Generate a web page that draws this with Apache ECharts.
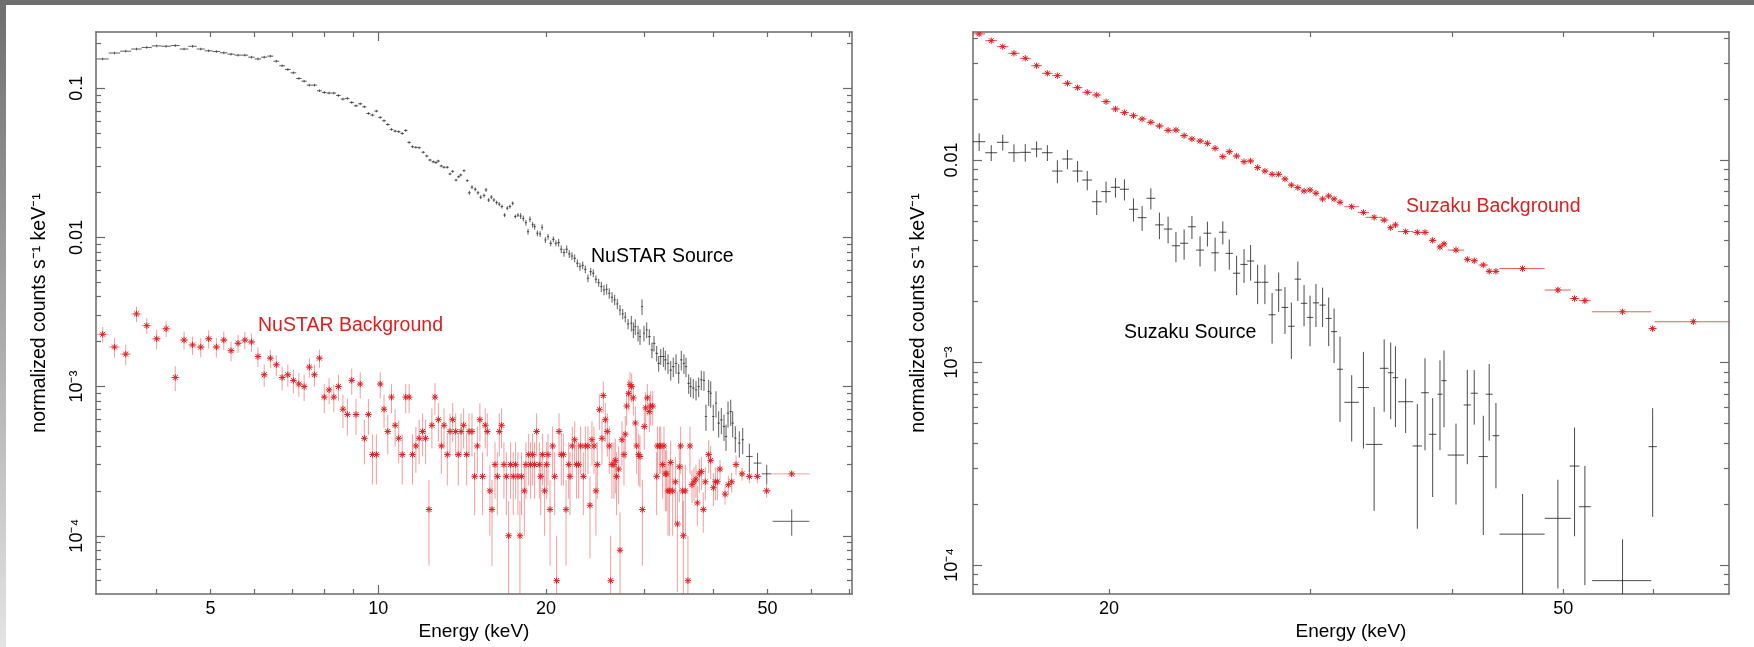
<!DOCTYPE html>
<html>
<head>
<meta charset="utf-8">
<script src="https://cdn.jsdelivr.net/npm/echarts@6/dist/echarts.min.js"></script>
<style>
html,body{margin:0;padding:0;background:#ffffff;}
#c{width:1754px;height:647px;}
</style>
</head>
<body>
<div id="c"></div>
<script>
// ---------------- axis ranges & ticks ----------------
const leftXRange = [3.113, 70.87];
const leftYRange = [4.07e-5, 0.238];
const rightXRange = [15.2, 69.85];
const rightYRange = [7.19e-5, 0.04286];

const leftXLabelValues = [5, 10, 20, 50];
const leftXLabelTexts = ['5', '10', '20', '50'];
const leftXMajorTicks = [10];
const leftXMinorTicks = [4, 5, 6, 7, 8, 9, 20, 30, 40, 50, 60, 70];

const leftYLabelValues = [0.1, 0.01, 0.001, 0.0001];
const leftYLabelTexts = ['0.1', '0.01', '10⁻³', '10⁻⁴'];
const leftYMajorTicks = [0.1, 0.01, 0.001, 0.0001];
const leftYMinorTicks = [5e-5, 6e-5, 7e-5, 8e-5, 9e-5, 2e-4, 3e-4, 4e-4, 5e-4, 6e-4, 7e-4, 8e-4, 9e-4,
  2e-3, 3e-3, 4e-3, 5e-3, 6e-3, 7e-3, 8e-3, 9e-3, 0.02, 0.03, 0.04, 0.05, 0.06, 0.07, 0.08, 0.09, 0.2];

const rightXLabelValues = [20, 50];
const rightXLabelTexts = ['20', '50'];
const rightXMajorTicks = [];
const rightXMinorTicks = [20, 30, 40, 50, 60];

const rightYLabelValues = [0.01, 0.001, 0.0001];
const rightYLabelTexts = ['0.01', '10⁻³', '10⁻⁴'];
const rightYMajorTicks = [0.01, 0.001, 0.0001];
const rightYMinorTicks = [8e-5, 9e-5, 2e-4, 3e-4, 4e-4, 5e-4, 6e-4, 7e-4, 8e-4, 9e-4,
  2e-3, 3e-3, 4e-3, 5e-3, 6e-3, 7e-3, 8e-3, 9e-3, 0.02, 0.03, 0.04];

const xAxisTitle = 'Energy (keV)';
const yAxisTitle = 'normalized counts s⁻¹ keV⁻¹';

// ---------------- data: [energy keV, half bin width keV, rate, relative error] ----------------
const nustarSource = [
[3.20,0.08,0.157,0.02],[3.36,0.08,0.172,0.02],[3.52,0.08,0.177,0.02],[3.68,0.08,0.183,0.02],[3.84,0.08,0.1875,0.02],
[4.00,0.08,0.192,0.02],[4.16,0.08,0.191,0.02],[4.32,0.08,0.193,0.02],[4.48,0.08,0.183,0.02],[4.64,0.08,0.191,0.02],
[4.80,0.08,0.183,0.02],[4.96,0.08,0.178,0.02],[5.12,0.08,0.176,0.02],[5.28,0.08,0.1726,0.02],[5.44,0.08,0.169,0.02],
[5.60,0.08,0.1665,0.02],[5.76,0.08,0.1665,0.02],[5.92,0.08,0.1614,0.02],[6.08,0.08,0.157,0.02],[6.24,0.08,0.1614,0.02],
[6.40,0.08,0.164,0.02],[6.56,0.08,0.1517,0.02],[6.72,0.08,0.1413,0.02],[6.88,0.08,0.1335,0.02],[7.04,0.08,0.1268,0.02],
[7.20,0.08,0.1161,0.02],[7.36,0.08,0.1114,0.02],[7.52,0.08,0.1048,0.02],[7.68,0.08,0.1048,0.02],[7.84,0.08,0.0961,0.02],
[8.00,0.08,0.0936,0.02],[8.16,0.08,0.0927,0.02],[8.32,0.08,0.0927,0.02],[8.48,0.08,0.0894,0.02],[8.64,0.08,0.0845,0.02],
[8.80,0.08,0.0854,0.02],[8.96,0.08,0.0802,0.02],[9.12,0.08,0.0762,0.02],[9.28,0.08,0.0786,0.02],[9.44,0.08,0.0750,0.02],
[9.60,0.08,0.0677,0.02],[9.76,0.08,0.0660,0.02],[9.92,0.08,0.0702,0.02],[10.08,0.08,0.0637,0.02],[10.24,0.08,0.0605,0.02],
[10.40,0.08,0.0571,0.02],[10.56,0.08,0.0529,0.02],[10.72,0.08,0.0516,0.02],[10.88,0.08,0.0511,0.02],[11.04,0.08,0.0497,0.02],
[11.20,0.08,0.0521,0.02],[11.36,0.08,0.0433,0.02],[11.52,0.08,0.0405,0.02],[11.68,0.08,0.0401,0.02],[11.84,0.08,0.0399,0.02],
[12.04,0.085,0.0372,0.02],[12.22,0.085,0.0351,0.02],[12.38,0.085,0.0330,0.02],[12.55,0.085,0.0321,0.02],[12.69,0.085,0.0317,0.02],
[12.81,0.085,0.0325,0.02],[12.97,0.085,0.0301,0.02],[13.12,0.085,0.0295,0.02],[13.30,0.085,0.0295,0.02],[13.45,0.085,0.0266,0.02],
[13.60,0.085,0.0277,0.02],[13.79,0.085,0.0242,0.02],[13.94,0.085,0.0255,0.02],[14.06,0.085,0.0262,0.02],[14.25,0.085,0.0280,0.02],
[14.45,0.085,0.0240,0.02],[14.57,0.085,0.0199,0.03],[14.73,0.085,0.0217,0.03],[14.93,0.085,0.0210,0.03],[15.10,0.085,0.0199,0.03],
[15.27,0.085,0.0186,0.03],[15.48,0.085,0.0191,0.03],[15.61,0.085,0.0208,0.03],[15.78,0.085,0.0178,0.03],[15.96,0.085,0.0186,0.03],
[16.13,0.085,0.0178,0.03],[16.31,0.085,0.0171,0.03],[16.49,0.085,0.0167,0.03],[16.67,0.085,0.0161,0.03],[16.86,0.085,0.0141,0.03],
[17.04,0.085,0.0157,0.03],[17.23,0.085,0.0161,0.03],[17.43,0.085,0.0169,0.03],[17.62,0.085,0.0138,0.03],[17.81,0.085,0.0141,0.03],
[18.01,0.085,0.0139,0.045],[18.21,0.085,0.0134,0.045],[18.41,0.085,0.01255,0.045],[18.57,0.085,0.01092,0.045],[18.72,0.085,0.01322,0.045],
[18.93,0.085,0.01216,0.045],[19.09,0.085,0.01180,0.045],[19.30,0.085,0.01065,0.045],[19.52,0.085,0.01054,0.045],[19.68,0.085,0.01168,0.045],
[19.95,0.085,0.00961,0.045],[20.17,0.085,0.01011,0.045],[20.40,0.12,0.00913,0.045],[20.62,0.12,0.00971,0.045],[20.84,0.12,0.00913,0.045],
[21.08,0.12,0.00922,0.06],[21.30,0.12,0.00833,0.06],[21.55,0.12,0.00790,0.06],[21.79,0.12,0.00833,0.06],[22.02,0.12,0.00774,0.06],
[22.27,0.12,0.00750,0.06],[22.52,0.12,0.00724,0.06],[22.77,0.12,0.00671,0.06],[23.02,0.12,0.00636,0.06],[23.28,0.12,0.00650,0.06],
[23.53,0.12,0.00611,0.06],[23.79,0.12,0.00532,0.06],[24.06,0.12,0.00589,0.06],[24.32,0.12,0.00575,0.06],[24.59,0.12,0.00524,0.06],
[24.87,0.12,0.00497,0.06],[25.14,0.12,0.00467,0.08],[25.42,0.12,0.00444,0.08],[25.70,0.12,0.00449,0.08],[25.98,0.12,0.00422,0.08],
[26.28,0.12,0.00397,0.08],[26.57,0.12,0.00381,0.08],[26.86,0.12,0.00358,0.08],[27.16,0.12,0.00326,0.08],[27.47,0.12,0.00307,0.08],
[27.76,0.12,0.00292,0.08],[28.08,0.12,0.00263,0.08],[28.46,0.12,0.00266,0.12],[28.70,0.12,0.00240,0.12],[28.93,0.12,0.00252,0.12],
[29.26,0.12,0.00228,0.12],[29.50,0.12,0.00216,0.12],[29.75,0.12,0.00343,0.12],[29.99,0.12,0.00228,0.12],[30.33,0.12,0.00240,0.12],
[30.66,0.18,0.00216,0.12],[31.00,0.18,0.00176,0.12],[31.26,0.18,0.00195,0.12],[31.61,0.18,0.00167,0.12],[31.87,0.18,0.00143,0.12],
[32.14,0.18,0.00159,0.12],[32.49,0.18,0.00159,0.15],[32.76,0.18,0.00151,0.15],[33.12,0.18,0.00143,0.15],[33.50,0.18,0.00129,0.15],
[33.85,0.18,0.00136,0.15],[34.24,0.18,0.00143,0.15],[34.62,0.18,0.00123,0.15],[34.99,0.18,0.00151,0.15],[35.38,0.18,0.00143,0.15],
[35.68,0.18,0.00136,0.15],[36.08,0.18,0.00105,0.15],[36.38,0.18,0.00100,0.15],[36.77,0.18,0.000976,0.15],[37.19,0.18,0.000950,0.15],
[37.60,0.18,0.00100,0.15],[38.01,0.18,0.00111,0.15],[38.43,0.18,0.00110,0.15],[38.75,0.18,0.000630,0.2],[39.19,0.18,0.000926,0.2],
[39.52,0.18,0.000903,0.2],[39.94,0.18,0.000630,0.2],[40.39,0.18,0.000774,0.2],[40.84,0.22,0.000569,0.2],[41.29,0.22,0.000598,0.2],
[41.75,0.22,0.000540,0.2],[42.10,0.22,0.000463,0.2],[42.45,0.22,0.000663,0.2],[42.93,0.22,0.000680,0.2],[43.28,0.22,0.000569,0.2],
[43.75,0.22,0.000451,0.2],[44.48,0.22,0.000418,0.2],[45.11,0.22,0.000440,0.2],[46.36,0.63,0.000340,0.22],[47.96,0.79,0.000307,0.17],
[49.82,1.03,0.000260,0.15],[55.24,4.2,0.000125,0.2]
];

const nustarBackground = [
[3.20,0.08,0.00224,0.12],[3.36,0.08,0.00184,0.15],[3.52,0.08,0.00165,0.16],[3.68,0.08,0.00307,0.12],[3.84,0.08,0.00256,0.12],
[4.00,0.08,0.00209,0.15],[4.16,0.08,0.00244,0.12],[4.32,0.08,0.00115,0.19],[4.48,0.08,0.00205,0.14],[4.64,0.08,0.00190,0.14],
[4.80,0.08,0.00184,0.15],[4.96,0.08,0.00209,0.14],[5.12,0.08,0.00184,0.15],[5.28,0.08,0.00205,0.14],[5.44,0.08,0.00174,0.15],
[5.60,0.08,0.00195,0.14],[5.76,0.08,0.00205,0.13],[5.92,0.08,0.00199,0.14],[6.08,0.08,0.00159,0.15],[6.24,0.08,0.00120,0.17],
[6.40,0.08,0.00155,0.14],[6.56,0.08,0.00140,0.16],[6.72,0.08,0.00115,0.18],[6.88,0.08,0.00120,0.17],[7.04,0.08,0.00110,0.18],
[7.20,0.08,0.00104,0.18],[7.36,0.08,0.00100,0.2],[7.52,0.08,0.00135,0.15],[7.68,0.08,0.00120,0.17],[7.84,0.08,0.00155,0.14],
[8.00,0.08,0.00085,0.22],[8.16,0.08,0.00095,0.2],[8.32,0.08,0.00085,0.21],[8.48,0.08,0.00100,0.2],[8.64,0.08,0.000705,0.25],
[8.80,0.08,0.00065,0.28],[8.96,0.08,0.00110,0.2],[9.12,0.08,0.00065,0.27],[9.28,0.08,0.00104,0.2],[9.44,0.08,0.00045,0.33],
[9.60,0.08,0.00065,0.27],[9.76,0.08,0.00035,0.37],[9.92,0.08,0.00035,0.37],[10.08,0.08,0.00104,0.2],[10.24,0.08,0.000705,0.25],
[10.40,0.08,0.0005,0.3],[10.56,0.08,0.00085,0.22],[10.72,0.08,0.00055,0.28],[10.88,0.08,0.00045,0.32],[11.04,0.08,0.00035,0.37],
[11.20,0.08,0.00085,0.22],[11.36,0.08,0.00085,0.22],[11.52,0.08,0.00035,0.37],[11.68,0.08,0.0004,0.34],[11.84,0.08,0.00045,0.33],
[12.01,0.08,0.0005,0.32],[12.16,0.08,0.00045,0.33],[12.33,0.08,0.00015,0.58],[12.48,0.08,0.00055,0.3],[12.64,0.08,0.00085,0.24],
[12.82,0.08,0.0006,0.29],[12.98,0.08,0.0004,0.35],[13.12,0.08,0.00055,0.3],[13.30,0.08,0.00035,0.38],[13.45,0.08,0.0005,0.32],
[13.60,0.08,0.0006,0.29],[13.77,0.08,0.0005,0.32],[13.92,0.08,0.00035,0.38],[14.08,0.08,0.0005,0.32],[14.23,0.08,0.00055,0.3],
[14.41,0.08,0.00035,0.38],[14.55,0.08,0.0005,0.32],[14.73,0.08,0.0005,0.32],[14.89,0.08,0.00025,0.45],[15.06,0.08,0.0004,0.35],
[15.22,0.08,0.0006,0.29],[15.39,0.08,0.00025,0.45],[15.56,0.08,0.00055,0.3],[15.69,0.08,0.0005,0.32],[15.86,0.08,0.0002,0.5],
[16.00,0.08,0.00015,0.58],[16.20,0.08,0.0003,0.41],[16.36,0.08,0.00025,0.45],[16.49,0.08,0.0005,0.32],[16.65,0.08,0.00055,0.3],
[16.81,0.08,0.0003,0.41],[16.98,0.08,0.00025,0.45],[17.14,0.08,0.0001,0.71],[17.28,0.08,0.0003,0.41],[17.47,0.08,0.00025,0.45],
[17.64,0.08,0.0003,0.41],[17.81,0.08,0.00025,0.45],[17.96,0.08,0.0001,0.71],[18.08,0.08,0.00025,0.45],[18.29,0.08,0.0002,0.5],
[18.41,0.08,0.0003,0.41],[18.62,0.08,0.00035,0.38],[18.77,0.08,0.0003,0.41],[18.93,0.08,0.00035,0.38],[19.08,0.08,0.0003,0.41],
[19.24,0.08,0.0005,0.32],[19.46,0.08,0.0003,0.41],[19.57,0.08,0.00025,0.45],[19.73,0.08,0.00035,0.38],[19.89,0.08,0.0002,0.5],
[20.06,0.1,0.0003,0.41],[20.17,0.1,0.00035,0.38],[20.34,0.1,0.00015,0.58],[20.56,0.1,0.0004,0.35],[20.73,0.1,0.00025,0.45],
[20.90,0.1,0.00005,1],[21.11,0.1,0.0005,0.32],[21.31,0.1,0.00035,0.38],[21.49,0.1,0.00035,0.38],[21.73,0.1,0.00015,0.58],
[21.97,0.1,0.0003,0.41],[22.09,0.1,0.00025,0.45],[22.30,0.1,0.0004,0.35],[22.52,0.1,0.00044,0.33],[22.70,0.1,0.0003,0.41],
[22.89,0.1,0.0003,0.41],[23.08,0.1,0.0004,0.35],[23.34,0.1,0.00025,0.45],[23.53,0.1,0.0004,0.35],[23.79,0.1,0.0004,0.35],
[23.99,0.1,0.00016,0.56],[24.19,0.1,0.00044,0.33],[24.39,0.1,0.0004,0.35],[24.59,0.1,0.0002,0.5],[24.73,0.1,0.0003,0.41],
[24.94,0.1,0.0007,0.27],[25.21,0.1,0.00045,0.33],[25.35,0.1,0.00087,0.24],[25.56,0.1,0.0006,0.29],[25.77,0.1,0.0005,0.32],
[25.98,0.1,0.0004,0.35],[26.13,0.1,0.00005,1],[26.27,0.1,0.0003,0.41],[26.49,0.1,0.0003,0.41],[26.64,0.1,0.00032,0.4],
[26.78,0.1,0.00025,0.45],[27.01,0.1,0.00028,0.42],[27.16,0.1,0.00008,0.8],[27.38,0.1,0.00044,0.33],[27.61,0.1,0.00035,0.38],
[27.76,0.1,0.00048,0.32],[27.92,0.1,0.00074,0.26],[28.15,0.1,0.0009,0.23],[28.31,0.1,0.00103,0.22],[28.50,0.1,0.001,0.22],
[28.70,0.1,0.00084,0.24],[28.94,0.1,0.00057,0.29],[29.10,0.1,0.0004,0.35],[29.34,0.1,0.00035,0.38],[29.50,0.1,0.00034,0.38],
[29.79,0.1,0.00015,0.58],[30.03,0.14,0.00054,0.3],[30.20,0.14,0.00072,0.27],[30.41,0.14,0.00084,0.24],[30.66,0.14,0.00068,0.27],
[30.83,0.14,0.00074,0.26],[31.09,0.14,0.00074,0.26],[31.61,0.14,0.00025,0.45],[31.70,0.14,0.0004,0.35],[31.96,0.14,0.0004,0.35],
[32.14,0.14,0.0004,0.35],[32.40,0.14,0.0003,0.41],[32.58,0.14,0.0004,0.35],[32.76,0.14,0.00026,0.44],[32.94,0.14,0.00026,0.44],
[33.12,0.14,0.0002,0.5],[33.31,0.14,0.0002,0.5],[33.49,0.14,0.00031,0.4],[33.77,0.14,0.0002,0.5],[34.15,0.14,0.00023,0.47],
[34.43,0.14,0.00012,0.65],[34.71,0.14,0.00029,0.42],[34.90,0.14,0.0004,0.35],[35.19,0.14,0.0002,0.5],[35.29,0.14,0.0001,0.71],
[35.58,0.14,0.0002,0.5],[35.97,0.14,0.00005,1],[36.27,0.14,0.0004,0.35],[36.57,0.14,0.00022,0.25],[36.88,0.14,0.00023,0.25],
[37.18,0.14,0.00024,0.25],[37.39,0.14,0.000166,0.3],[37.70,0.14,0.00026,0.25],[38.02,0.14,0.00027,0.25],[38.33,0.14,0.00015,0.3],
[38.65,0.14,0.00023,0.25],[39.19,0.14,0.00035,0.25],[39.51,0.14,0.00032,0.25],[39.96,0.14,0.00021,0.25],[40.29,0.2,0.00023,0.25],
[40.62,0.2,0.00023,0.25],[41.07,0.2,0.00028,0.15],[41.93,0.2,0.00019,0.15],[42.51,0.2,0.00022,0.15],[43.10,0.2,0.00023,0.15],
[43.88,0.2,0.0003,0.15],[44.98,0.5,0.00026,0.1],[46.36,0.6,0.00025,0.1],[47.92,0.75,0.00025,0.1],[49.80,0.9,0.0002,0.1],
[55.23,4.2,0.00026,0.05]
];

const suzakuBackground = [
[15.39,0.19,0.04193,0.012],[15.77,0.19,0.03884,0.012],[16.14,0.19,0.03628,0.012],[16.51,0.19,0.03363,0.012],[16.89,0.19,0.03178,0.012],
[17.28,0.19,0.02922,0.012],[17.66,0.19,0.02679,0.012],[18.02,0.19,0.02609,0.012],[18.39,0.19,0.02391,0.012],[18.77,0.19,0.02276,0.012],
[19.14,0.19,0.02158,0.012],[19.51,0.19,0.02094,0.012],[19.88,0.19,0.01941,0.012],[20.26,0.19,0.01786,0.012],[20.63,0.19,0.01713,0.012],
[21.01,0.19,0.01655,0.012],[21.38,0.19,0.01594,0.012],[21.76,0.19,0.01535,0.012],[22.14,0.19,0.01472,0.012],[22.53,0.19,0.01401,0.012],
[22.89,0.19,0.01406,0.012],[23.27,0.19,0.01319,0.012],[23.64,0.19,0.01270,0.012],[24.03,0.19,0.01241,0.012],[24.39,0.19,0.01209,0.012],
[24.77,0.19,0.01142,0.012],[25.16,0.19,0.01039,0.012],[25.49,0.19,0.01099,0.012],[25.87,0.19,0.01046,0.012],[26.26,0.19,0.00981,0.012],
[26.61,0.19,0.00989,0.012],[26.99,0.19,0.00917,0.012],[27.39,0.19,0.00882,0.012],[27.79,0.19,0.00850,0.012],[28.16,0.19,0.00850,0.012],
[28.52,0.19,0.00806,0.012],[28.89,0.19,0.00752,0.012],[29.27,0.19,0.00730,0.012],[29.64,0.19,0.00703,0.012],[30.00,0.19,0.00711,0.012],
[30.36,0.19,0.00685,0.012],[30.77,0.19,0.00642,0.012],[31.15,0.19,0.00664,0.012],[31.49,0.19,0.00642,0.012],[31.87,0.19,0.00618,0.012],
[32.63,0.48,0.00588,0.02],[33.41,0.38,0.00551,0.02],[34.14,0.57,0.00521,0.02],[34.84,0.3,0.00505,0.02],[35.30,0.2,0.00463,0.02],
[35.64,0.2,0.00478,0.02],[36.38,0.55,0.00443,0.02],[37.25,0.35,0.00439,0.02],[37.83,0.29,0.00439,0.02],[38.42,0.29,0.00401,0.02],
[38.99,0.2,0.00372,0.02],[39.31,0.2,0.00385,0.02],[40.27,0.67,0.00359,0.02],[41.20,0.3,0.00323,0.02],[41.78,0.3,0.00318,0.02],
[42.55,0.4,0.00303,0.02],[43.06,0.3,0.00282,0.02],[43.65,0.3,0.00282,0.02],[46.06,2.1,0.00291,0.03],[49.46,1.3,0.00228,0.03],
[51.15,0.5,0.00207,0.03],[52.23,0.63,0.00202,0.03],[56.35,3.35,0.00178,0.03],[59.88,0.5,0.00147,0.03],[65.0,4.9,0.00159,0.03]
];

const suzakuSource = [
[15.39,0.19,0.01231,0.10],[15.77,0.19,0.01086,0.09],[16.14,0.19,0.01223,0.09],[16.51,0.19,0.01086,0.10],[16.89,0.19,0.01091,0.10],
[17.28,0.19,0.01133,0.09],[17.66,0.19,0.01086,0.09],[18.02,0.19,0.00882,0.13],[18.39,0.19,0.01011,0.11],[18.77,0.19,0.00882,0.12],
[19.14,0.19,0.00796,0.11],[19.51,0.19,0.00622,0.14],[19.88,0.19,0.00698,0.12],[20.26,0.19,0.00733,0.11],[20.63,0.19,0.00717,0.12],
[21.01,0.19,0.00571,0.13],[21.38,0.19,0.00519,0.14],[21.76,0.19,0.00647,0.12],[22.14,0.19,0.00478,0.15],[22.53,0.19,0.00456,0.15],
[22.89,0.19,0.00377,0.17],[23.27,0.19,0.00388,0.17],[23.64,0.19,0.00468,0.13],[24.03,0.19,0.00359,0.17],[24.39,0.19,0.00435,0.14],
[24.77,0.19,0.00348,0.19],[25.16,0.19,0.00440,0.13],[25.49,0.19,0.00346,0.17],[25.87,0.19,0.00276,0.22],[26.26,0.19,0.00305,0.19],
[26.61,0.19,0.00317,0.2],[26.99,0.19,0.00249,0.22],[27.39,0.19,0.00249,0.22],[27.79,0.19,0.00172,0.28],[28.16,0.19,0.00228,0.22],
[28.52,0.19,0.00187,0.26],[28.89,0.19,0.00151,0.31],[29.27,0.19,0.00258,0.22],[29.64,0.19,0.00196,0.23],[30.00,0.19,0.00167,0.28],
[30.36,0.19,0.00197,0.24],[30.77,0.19,0.00192,0.22],[31.15,0.19,0.00165,0.27],[31.49,0.19,0.00142,0.3],[31.87,0.19,0.000926,0.45],
[32.63,0.48,0.000636,0.36],[33.41,0.38,0.000752,0.5],[34.14,0.57,0.000394,0.53],[34.84,0.3,0.000936,0.39],[35.30,0.2,0.000890,0.41],
[35.64,0.2,0.000841,0.43],[36.38,0.55,0.000640,0.3],[37.25,0.35,0.000387,0.61],[37.83,0.29,0.000709,0.48],[38.42,0.29,0.000442,0.51],
[38.99,0.2,0.000697,0.47],[39.31,0.2,0.000813,0.41],[40.27,0.67,0.000349,0.43],[41.20,0.3,0.000617,0.49],[41.78,0.3,0.000705,0.3],
[42.55,0.4,0.000343,0.59],[43.06,0.3,0.000697,0.41],[43.65,0.3,0.000435,0.45],[46.06,2.1,0.000142,0.58],[49.46,1.3,0.000170,0.55],
[51.15,0.5,0.000308,0.55],[52.23,0.63,0.000194,0.59],[56.35,3.35,0.0000837,0.6],[59.88,0.5,0.000384,0.55]
];

const annotations = [
  { text: 'NuSTAR Source', color: '#000000', x: 591, y: 257 },
  { text: 'NuSTAR Background', color: '#e01e1e', x: 258, y: 326 },
  { text: 'Suzaku Background', color: '#e01e1e', x: 1406, y: 207 },
  { text: 'Suzaku Source', color: '#000000', x: 1124, y: 333 }
];

// ---------------- chart ----------------
const FONT = "'Liberation Sans', Arial, Helvetica, sans-serif";
const AX = '#6a6a6a';
const chart = echarts.init(document.getElementById('c'), null, { renderer: 'canvas', width: 1754, height: 647 });

function fmt(values, texts) {
  return function (v) {
    for (let i = 0; i < values.length; i++) {
      if (Math.abs(v / values[i] - 1) < 1e-6) return texts[i];
    }
    return '';
  };
}

function mkAxis(o) {
  const ax = {
    type: 'log', logBase: 10, gridIndex: o.grid, position: o.pos,
    min: o.range[0], max: o.range[1],
    axisLine: { show: !!o.line, onZero: false, lineStyle: { color: AX, width: 1.5 } },
    axisTick: { show: o.ticks.length > 0, inside: true, length: o.len, customValues: o.ticks,
      lineStyle: { color: AX, width: 1.2 } },
    minorTick: { show: false },
    splitLine: { show: false },
    minorSplitLine: { show: false },
    axisLabel: { show: false },
    silent: true,
    nameMoveOverlap: false
  };
  if (o.labels) {
    ax.axisLabel = {
      show: true, customValues: o.labels.values, formatter: fmt(o.labels.values, o.labels.texts),
      color: '#000', fontFamily: FONT, fontSize: 18, margin: o.labels.margin, rotate: o.labels.rotate || 0,
      hideOverlap: false
    };
  }
  if (o.name) {
    ax.name = o.name;
    ax.nameLocation = 'middle';
    ax.nameGap = o.nameGap;
    if (o.nameRotate !== undefined) ax.nameRotate = o.nameRotate;
    ax.nameTextStyle = { color: '#000', fontFamily: FONT, fontSize: o.nameSize || 19 };
  }
  return ax;
}

const xAxes = [
  mkAxis({ grid: 0, pos: 'bottom', range: leftXRange, ticks: leftXMajorTicks, len: 9, line: true,
    labels: { values: leftXLabelValues, texts: leftXLabelTexts, margin: 6 }, name: xAxisTitle, nameGap: 28 }),
  mkAxis({ grid: 0, pos: 'bottom', range: leftXRange, ticks: leftXMinorTicks, len: 5 }),
  mkAxis({ grid: 0, pos: 'top', range: leftXRange, ticks: leftXMajorTicks, len: 9, line: true }),
  mkAxis({ grid: 0, pos: 'top', range: leftXRange, ticks: leftXMinorTicks, len: 5 }),
  mkAxis({ grid: 1, pos: 'bottom', range: rightXRange, ticks: rightXMajorTicks, len: 9, line: true,
    labels: { values: rightXLabelValues, texts: rightXLabelTexts, margin: 6 }, name: xAxisTitle, nameGap: 28 }),
  mkAxis({ grid: 1, pos: 'bottom', range: rightXRange, ticks: rightXMinorTicks, len: 5 }),
  mkAxis({ grid: 1, pos: 'top', range: rightXRange, ticks: rightXMajorTicks, len: 9, line: true }),
  mkAxis({ grid: 1, pos: 'top', range: rightXRange, ticks: rightXMinorTicks, len: 5 })
];
const yAxes = [
  mkAxis({ grid: 0, pos: 'left', range: leftYRange, ticks: leftYMajorTicks, len: 9, line: true,
    labels: { values: leftYLabelValues, texts: leftYLabelTexts, margin: 9.5, rotate: 90 },
    name: yAxisTitle, nameGap: 46, nameRotate: 90, nameSize: 19.5 }),
  mkAxis({ grid: 0, pos: 'left', range: leftYRange, ticks: leftYMinorTicks, len: 5 }),
  mkAxis({ grid: 0, pos: 'right', range: leftYRange, ticks: leftYMajorTicks, len: 9, line: true }),
  mkAxis({ grid: 0, pos: 'right', range: leftYRange, ticks: leftYMinorTicks, len: 5 }),
  mkAxis({ grid: 1, pos: 'left', range: rightYRange, ticks: rightYMajorTicks, len: 9, line: true,
    labels: { values: rightYLabelValues, texts: rightYLabelTexts, margin: 11.5, rotate: 90 },
    name: yAxisTitle, nameGap: 44, nameRotate: 90, nameSize: 19.5 }),
  mkAxis({ grid: 1, pos: 'left', range: rightYRange, ticks: rightYMinorTicks, len: 5 }),
  mkAxis({ grid: 1, pos: 'right', range: rightYRange, ticks: rightYMajorTicks, len: 9, line: true }),
  mkAxis({ grid: 1, pos: 'right', range: rightYRange, ticks: rightYMinorTicks, len: 5 })
];

function makeRender(barColor, starColor) {
  return function (params, api) {
    const E = api.value(0), dE = api.value(1), v = api.value(2), r = api.value(3);
    const cs = params.coordSys;
    const x0 = cs.x, x1 = cs.x + cs.width, y0 = cs.y, y1 = cs.y + cs.height;
    const c = api.coord([E, v]);
    const xl = Math.max(x0, api.coord([E - dE, v])[0]);
    const xr = Math.min(x1, api.coord([E + dE, v])[0]);
    const yt = Math.max(y0, api.coord([E, v * (1 + r)])[1]);
    const lo = v * (1 - r);
    const yb = lo > 0 ? Math.min(y1, api.coord([E, lo])[1]) : y1;
    const st = { stroke: barColor, lineWidth: 1 };
    const children = [];
    if (c[1] >= y0 && c[1] <= y1) {
      children.push({ type: 'line', shape: { x1: xl, y1: c[1], x2: xr, y2: c[1] }, style: st });
    }
    if (yb > yt) {
      children.push({ type: 'line', shape: { x1: c[0], y1: yt, x2: c[0], y2: yb }, style: st });
    }
    if (starColor && c[1] >= y0 - 2 && c[1] <= y1) {
      const s = { stroke: starColor, lineWidth: 1 };
      const a = 3.2, d = 2.4;
      children.push({ type: 'line', shape: { x1: c[0] - a, y1: c[1], x2: c[0] + a, y2: c[1] }, style: s });
      children.push({ type: 'line', shape: { x1: c[0], y1: c[1] - a, x2: c[0], y2: c[1] + a }, style: s });
      children.push({ type: 'line', shape: { x1: c[0] - d, y1: c[1] - d, x2: c[0] + d, y2: c[1] + d }, style: s });
      children.push({ type: 'line', shape: { x1: c[0] - d, y1: c[1] + d, x2: c[0] + d, y2: c[1] - d }, style: s });
    }
    return { type: 'group', children: children };
  };
}

function mkSeries(name, data, xi, yi, barColor, starColor) {
  return {
    name: name, type: 'custom', xAxisIndex: xi, yAxisIndex: yi, data: data,
    encode: { x: 0, y: 2 }, renderItem: makeRender(barColor, starColor),
    clip: true, silent: true, animation: false
  };
}

const graphics = [
  { type: 'rect', x: 0, y: 0, shape: { width: 1754, height: 5 }, style: { fill: '#6e6e6e' }, silent: true, z: 100 },
  { type: 'rect', x: 0, y: 0, shape: { width: 6, height: 647 }, silent: true, z: 100,
    style: { fill: new echarts.graphic.LinearGradient(0, 0, 0, 1, [
      { offset: 0, color: '#6e6e6e' }, { offset: 1, color: '#e4e4e4' }]) } }
];
annotations.forEach(function (a) {
  graphics.push({ type: 'text', x: a.x, y: a.y, silent: true, z: 50,
    style: { text: a.text, fill: a.color, font: '19.5px ' + FONT,
      verticalAlign: 'middle', textVerticalAlign: 'middle', align: 'left', textAlign: 'left' } });
});

chart.setOption({
  backgroundColor: '#ffffff',
  animation: false,
  grid: [
    { left: 96, top: 32, width: 756, height: 562, containLabel: false, outerBoundsMode: 'none' },
    { left: 973, top: 32, width: 756, height: 562, containLabel: false, outerBoundsMode: 'none' }
  ],
  xAxis: xAxes,
  yAxis: yAxes,
  series: [
    mkSeries('NuSTAR Source', nustarSource, 0, 0, 'rgba(40,40,40,0.75)', null),
    mkSeries('NuSTAR Background', nustarBackground, 0, 0, 'rgba(235,60,60,0.5)', 'rgb(228,30,34)'),
    mkSeries('Suzaku Background', suzakuBackground, 4, 4, 'rgba(232,50,50,0.8)', 'rgb(228,30,34)'),
    mkSeries('Suzaku Source', suzakuSource, 4, 4, 'rgba(30,30,30,0.8)', null)
  ],
  graphic: graphics
});
</script>
</body>
</html>
